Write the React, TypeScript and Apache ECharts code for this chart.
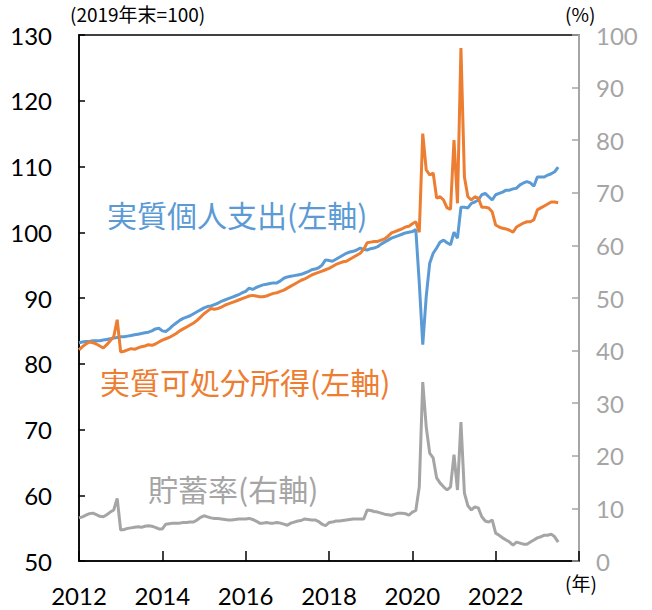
import React, { useEffect, useRef } from "react";
import * as echarts from "echarts";

// Monthly data, Jan 2012 .. Jul 2023
const START_YEAR = 2012;

const spending: number[] = [
  // 2012
  83.2, 83.3, 83.4, 83.4, 83.5, 83.5, 83.5, 83.6, 83.7, 83.8, 83.9, 84.0,
  // 2013
  84.1, 84.1, 84.2, 84.3, 84.4, 84.5, 84.6, 84.7, 84.8, 85.0, 85.3, 85.4,
  // 2014
  85.0, 84.9, 85.3, 85.8, 86.2, 86.6, 86.9, 87.1, 87.3, 87.6, 87.9, 88.2,
  // 2015
  88.5, 88.7, 88.8, 89.0, 89.2, 89.5, 89.7, 89.9, 90.1, 90.3, 90.5, 90.8,
  // 2016
  91.0, 91.5, 91.3, 91.6, 91.8, 92.0, 92.1, 92.2, 92.3, 92.3, 92.6, 93.0,
  // 2017
  93.2, 93.3, 93.4, 93.5, 93.6, 93.8, 94.0, 94.3, 94.4, 94.6, 95.0, 95.8,
  // 2018
  95.7, 95.6, 95.9, 96.2, 96.5, 96.8, 97.0, 97.1, 97.3, 97.6, 97.4, 97.3,
  // 2019
  97.5, 97.6, 97.8, 98.2, 98.5, 98.8, 99.1, 99.3, 99.5, 99.7, 99.9, 100.0,
  // 2020
  100.1, 100.4, 92.3, 82.9, 90.2, 95.3, 96.8, 97.6, 98.5, 98.8, 98.4, 98.1,
  // 2021
  100.0, 99.1, 103.8, 103.8, 103.7, 104.4, 104.6, 104.9, 105.7, 105.9, 105.4, 104.9,
  // 2022
  105.7, 105.9, 106.1, 106.4, 106.4, 106.6, 106.7, 107.2, 107.5, 107.7, 107.5, 107.0,
  // 2023
  108.4, 108.4, 108.4, 108.7, 108.9, 109.2, 109.9,
];

const income: number[] = [
  // 2012
  82.1, 82.6, 83.0, 83.3, 83.2, 83.0, 82.7, 82.4, 82.9, 83.5, 84.1, 86.7,
  // 2013
  81.8, 81.9, 82.1, 82.3, 82.2, 82.4, 82.6, 82.7, 82.9, 82.8, 83.0, 83.3,
  // 2014
  83.6, 83.8, 84.0, 84.3, 84.6, 85.0, 85.3, 85.6, 85.9, 86.2, 86.6, 87.1,
  // 2015
  87.6, 88.0, 88.4, 88.3, 88.4, 88.6, 88.9, 89.1, 89.3, 89.5, 89.7, 89.9,
  // 2016
  90.1, 90.3, 90.4, 90.3, 90.2, 90.2, 90.3, 90.5, 90.7, 90.8, 91.0, 91.2,
  // 2017
  91.5, 91.8, 92.1, 92.4, 92.7, 92.9, 93.2, 93.5, 93.7, 93.9, 94.1, 94.3,
  // 2018
  94.5, 94.8, 95.1, 95.3, 95.5, 95.6, 95.9, 96.2, 96.5, 96.8, 97.4, 98.4,
  // 2019
  98.5, 98.6, 98.6, 98.8, 99.0, 99.4, 99.9, 100.1, 100.3, 100.5, 100.8, 100.9,
  // 2020
  101.3, 101.6, 100.0, 115.0, 109.5, 108.7, 109.0, 105.2, 105.4, 104.9, 103.7, 103.5,
  // 2021
  114.0, 104.4, 128.0, 108.4, 105.4, 104.9, 105.4, 105.2, 103.8, 103.8, 103.7, 103.1,
  // 2022
  101.1, 100.8, 100.6, 100.5, 100.3, 100.0, 100.8, 101.1, 101.4, 101.6, 101.6, 101.9,
  // 2023
  103.4, 103.7, 104.0, 104.3, 104.6, 104.6, 104.5,
];

const savingRate: number[] = [
  // 2012
  8.2, 8.4, 8.7, 9.0, 9.1, 8.8, 8.5, 8.4, 8.8, 9.3, 9.7, 11.9,
  // 2013
  5.9, 6.0, 6.2, 6.3, 6.4, 6.5, 6.4, 6.6, 6.7, 6.6, 6.4, 6.1,
  // 2014
  6.1, 7.0, 7.1, 7.2, 7.2, 7.2, 7.3, 7.3, 7.4, 7.4, 7.8, 8.3,
  // 2015
  8.6, 8.4, 8.2, 8.1, 8.1, 8.0, 7.9, 7.8, 7.8, 7.9, 8.0, 8.0,
  // 2016
  8.0, 8.1, 7.9, 7.6, 7.2, 7.2, 7.3, 7.2, 7.2, 7.3, 7.2, 7.0,
  // 2017
  6.8, 7.2, 7.4, 7.6, 7.7, 8.0, 7.9, 7.8, 7.8, 7.5, 7.0, 6.7,
  // 2018
  7.3, 7.4, 7.6, 7.6, 7.7, 7.8, 7.9, 8.0, 8.0, 8.0, 8.0, 9.7,
  // 2019
  9.6, 9.4, 9.3, 9.1, 8.9, 8.8, 8.7, 8.9, 9.1, 9.1, 9.0, 8.7,
  // 2020
  9.3, 9.6, 14.1, 34.0, 25.5, 20.5, 19.6, 15.8, 14.8, 14.1, 13.5, 14.1,
  // 2021
  20.2, 13.5, 26.4, 12.9, 10.5, 9.7, 10.3, 10.1, 8.4, 7.6, 7.4, 7.8,
  // 2022
  5.3, 4.9, 4.4, 4.0, 3.6, 3.0, 3.6, 3.4, 3.2, 3.2, 3.6, 4.0,
  // 2023
  4.4, 4.6, 4.9, 4.9, 5.1, 4.6, 3.6,
];

const X_MIN = 2012;
const X_MAX = 2024;
const X_INTERVAL = 2;
const LEFT_MIN = 50;
const LEFT_MAX = 130;
const RIGHT_MIN = 0;
const RIGHT_MAX = 100;

const BLUE = "#5B9BD5";
const ORANGE = "#ED7D31";
const GRAY = "#A5A5A5";
const NUM_FONT = "Lato, 'Noto Sans', sans-serif";
const JP_FONT = "'Noto Sans CJK JP', 'Noto Sans', sans-serif";

const toXY = (arr: number[]) =>
  arr.map((v, i) => [START_YEAR + i / 12, v]);

export default function App() {
  const ref = useRef<HTMLDivElement>(null);
  useEffect(() => {
    if (!ref.current) return;
    const chart = echarts.init(ref.current, undefined, { renderer: "svg" });
    chart.setOption({
      animation: false,
      grid: {
        left: 79,
        right: 73,
        top: 35,
        bottom: 49,
        containLabel: false,
        show: true,
        borderColor: "#404040",
        borderWidth: 2,
        backgroundColor: "transparent",
      },
      xAxis: {
        type: "value",
        min: X_MIN,
        max: X_MAX,
        interval: X_INTERVAL,
        axisLine: { lineStyle: { color: "#000", width: 1.5 } },
        axisTick: { inside: true, length: 10, lineStyle: { color: "#000", width: 1.5 } },
        splitLine: { show: false },
        axisLabel: {
          fontSize: 24,
          color: "#000",
          fontFamily: NUM_FONT,
          margin: 22,
          formatter: (v: number) => (v >= X_MAX ? "" : String(v)),
        },
      },
      yAxis: [
        {
          type: "value",
          min: LEFT_MIN,
          max: LEFT_MAX,
          interval: 10,
          position: "left",
          axisLine: { show: true, lineStyle: { color: "#000", width: 1.5 } },
          axisTick: { show: true, inside: true, length: 6, lineStyle: { color: "#000", width: 1.5 } },
          splitLine: { show: false },
          axisLabel: { fontSize: 24, color: "#000", fontFamily: NUM_FONT, margin: 27 },
        },
        {
          type: "value",
          min: RIGHT_MIN,
          max: RIGHT_MAX,
          interval: 10,
          position: "right",
          axisLine: { show: true, lineStyle: { color: GRAY, width: 2 } },
          axisTick: { show: true, inside: true, length: 7, lineStyle: { color: GRAY, width: 1.5 } },
          splitLine: { show: false },
          axisLabel: { fontSize: 24, color: GRAY, fontFamily: NUM_FONT, margin: 17 },
        },
      ],
      series: [
        {
          type: "line",
          name: "貯蓄率",
          yAxisIndex: 1,
          data: toXY(savingRate),
          showSymbol: false,
          lineStyle: { color: GRAY, width: 3 },
          itemStyle: { color: GRAY },
        },
        {
          type: "line",
          name: "実質個人支出",
          yAxisIndex: 0,
          data: toXY(spending),
          showSymbol: false,
          lineStyle: { color: BLUE, width: 3 },
          itemStyle: { color: BLUE },
        },
        {
          type: "line",
          name: "実質可処分所得",
          yAxisIndex: 0,
          data: toXY(income),
          showSymbol: false,
          lineStyle: { color: ORANGE, width: 3 },
          itemStyle: { color: ORANGE },
        },
      ],
      graphic: [
        {
          type: "text",
          left: 70,
          top: 4,
          style: { text: "(2019年末=100)", fontSize: 19, fill: "#000", fontFamily: JP_FONT },
        },
        {
          type: "text",
          left: 565,
          top: 4,
          style: { text: "(%)", fontSize: 19, fill: "#000", fontFamily: JP_FONT },
        },
        {
          type: "text",
          left: 565,
          top: 573,
          style: { text: "(年)", fontSize: 19, fill: "#000", fontFamily: JP_FONT },
        },
        {
          type: "text",
          left: 107,
          top: 199,
          style: { text: "実質個人支出(左軸)", fontSize: 30, fill: BLUE, fontFamily: JP_FONT },
        },
        {
          type: "text",
          left: 100,
          top: 366,
          style: { text: "実質可処分所得(左軸)", fontSize: 30, fill: ORANGE, fontFamily: JP_FONT },
        },
        {
          type: "text",
          left: 148,
          top: 473,
          style: { text: "貯蓄率(右軸)", fontSize: 30, fill: GRAY, fontFamily: JP_FONT },
        },
      ],
    });
    return () => chart.dispose();
  }, []);
  return <div ref={ref} style={{ width: 652, height: 610, position: "absolute", left: 0, top: 0 }} />;
}
